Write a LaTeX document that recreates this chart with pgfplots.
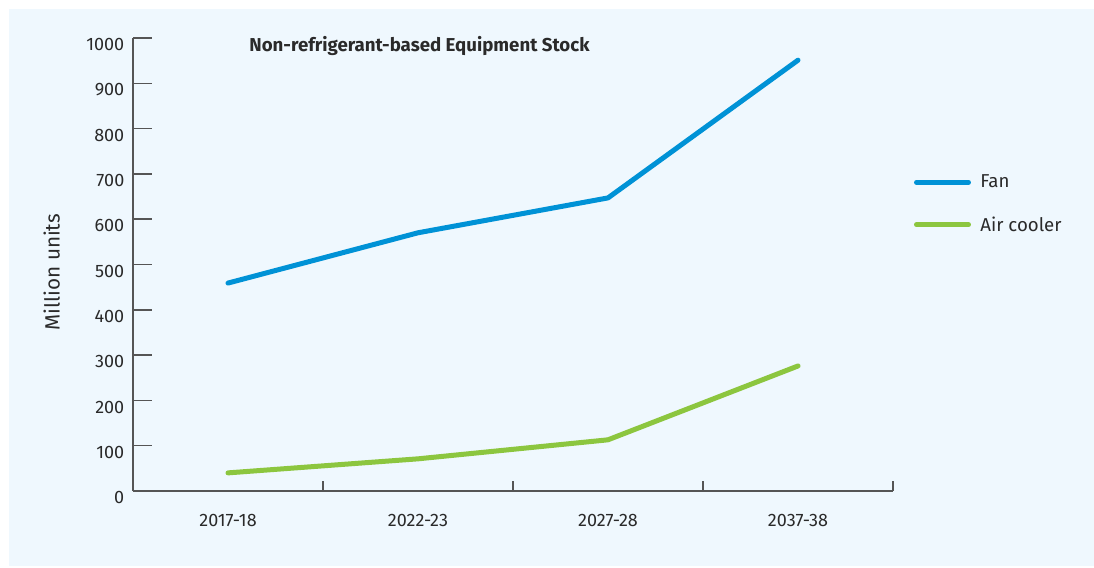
\documentclass[border=0pt]{standalone}
\usepackage{fontspec}
\setmainfont{Fira Sans}
\usepackage{pgfplots}
\pgfplotsset{compat=1.18}
\definecolor{bgblue}{HTML}{EFF8FE}
\definecolor{fanblue}{HTML}{0092D6}
\definecolor{coolgreen}{HTML}{8CC63F}
\definecolor{txt}{HTML}{2A2A2A}
\definecolor{axisgray}{HTML}{555555}

\begin{document}
\begin{tikzpicture}
% canvas: 1094x567 px at 0.75pt/px
\path[fill=white] (0,0) rectangle (820.5pt,425.25pt);
\path[fill=bgblue] (6.75pt,0.75pt) rectangle (820.5pt,418.5pt);
\begin{axis}[
    at={(99.75pt,57pt)}, anchor=south west,
    scale only axis,
    width=570pt, height=339.75pt,
    xmin=-0.5, xmax=3.5,
    ymin=0, ymax=1000,
    axis x line*=bottom, axis y line*=left,
    axis line style={axisgray, line width=1.1pt},
    xtick={0,1,2,3},
    xticklabels={2017-18,2022-23,2027-28,2037-38},
    major x tick style={draw=none},
    minor xtick={0.5,1.5,2.5,3.5},
    minor x tick style={axisgray, line width=1.1pt},
    minor tick length=7.5pt,
    ytick={0,100,...,1000},
    y tick style={axisgray, line width=1.1pt},
    major tick length=14pt,
    tick align=inside,
    /pgf/number format/assume math mode=true,
    /pgf/number format/1000 sep={},
    tick label style={font=\fontsize{13.5}{16}\selectfont, text=txt},
    yticklabel style={xshift=-3pt, yshift=-5pt},
    xticklabel style={yshift=-14pt},
    ylabel={Million units},
    ylabel style={at={(axis description cs:-0.107,0.483)}, anchor=center,
                  font=\fontsize{15.5}{18}\selectfont, text=txt},
    legend style={draw=none, fill=none, at={(rel axis cs:1.022,0.71)},
                  anchor=north west, font=\fontsize{14}{17}\selectfont,
                  text=txt, row sep=16pt,
                  /tikz/every odd column/.append style={column sep=5pt}},
    legend cell align=left,
    legend image code/.code={\draw[#1, line cap=round] (0pt,0pt) -- (39pt,0pt);},
    clip=false,
]
\addplot[fanblue, line width=3.75pt, line cap=round, line join=round]
    coordinates {(0,459) (1,570) (2,647) (3,951)};
\addlegendentry{Fan}
\addplot[coolgreen, line width=3.75pt, line cap=round, line join=round]
    coordinates {(0,40) (1,71) (2,113) (3,276)};
\addlegendentry{Air cooler}
\node[anchor=west, font=\fontsize{14}{17}\selectfont\bfseries, text=txt]
    at (rel axis cs:0.147,0.982) {Non-refrigerant-based Equipment Stock};
\end{axis}
\end{tikzpicture}
\end{document}
